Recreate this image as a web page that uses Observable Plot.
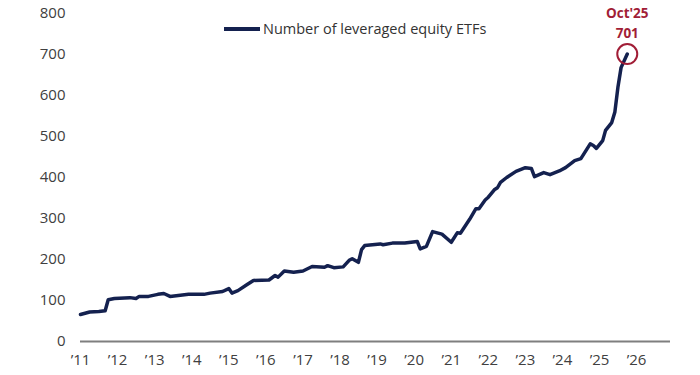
<!DOCTYPE html>
<html><head><meta charset="utf-8">
<script src="https://cdn.jsdelivr.net/npm/d3@7"></script>
<script src="https://cdn.jsdelivr.net/npm/@observablehq/plot@0.6"></script>
<style>
body{margin:0;background:#fff;font-family:"Open Sans",sans-serif}
#wrap{position:relative;width:700px;height:375px}
#legend{position:absolute;left:224px;top:19px;display:flex;align-items:center;font-size:14.5px;color:#333;line-height:20px}
#legend .sw{display:inline-block;width:36px;height:3.5px;background:#14214f;margin-right:3px}
</style></head><body>
<div id="wrap"><div id="legend"><span class="sw"></span><span id="legtext"></span></div></div>
<script>
const seriesName = "Number of leveraged equity ETFs";
const months = ["2011-01","2011-04","2011-07","2011-09","2011-10","2011-12","2012-05","2012-07","2012-08","2012-11",
"2013-02","2013-04","2013-06","2013-12","2014-05","2014-07","2014-11","2015-01","2015-02","2015-04",
"2015-07","2015-09","2016-02","2016-04","2016-05","2016-07","2016-10","2017-01","2017-04","2017-08",
"2017-09","2017-11","2018-02","2018-04","2018-05","2018-07","2018-08","2018-09","2019-02","2019-03",
"2019-06","2019-10","2020-02","2020-03","2020-05","2020-07","2020-10","2021-01","2021-03","2021-04","2021-07",
"2021-09","2021-10","2021-12","2022-01","2022-03","2022-04","2022-05","2022-07","2022-10","2023-01","2023-03","2023-04","2023-07",
"2023-09","2023-12","2024-02","2024-05","2024-07","2024-10","2024-11","2024-12","2025-02","2025-03",
"2025-05","2025-06","2025-07","2025-08","2025-10"];
const counts = [66,72,73,75,102,105,107,105,110,110,
115,117,110,115,115,118,122,129,118,124,
139,149,150,161,157,172,169,172,183,181,
185,180,182,198,202,193,224,234,238,236,
240,240,244,226,232,268,262,242,265,264,298,
324,324,345,352,370,375,388,400,415,424,422,402,412,
407,416,424,441,446,482,478,471,490,515,
534,560,620,668,701];
const yTicks = [0,100,200,300,400,500,600,700,800];
const xTickYears = [2011,2012,2013,2014,2015,2016,2017,2018,2019,2020,2021,2022,2023,2024,2025,2026];
const peakMonth = "2025-10";
const peakLabel = "Oct'25";
const peakValue = 701;

document.getElementById("legtext").textContent = seriesName;
const data = months.map((m,i)=>({date:new Date(m+"-01T00:00:00Z"), value:counts[i]}));
const peak = [{date:new Date(peakMonth+"-01T00:00:00Z"), value:peakValue}];
const navy = "#14214f", red = "#a11d36";

const chart = Plot.plot({
  width:700, height:375,
  marginLeft:80, marginRight:30, marginTop:13, marginBottom:34,
  style:{fontFamily:'"Open Sans", sans-serif', fontSize:"15px", color:"#404040", background:"transparent"},
  x:{type:"utc", domain:[new Date("2011-01-01T00:00:00Z"), new Date("2026-12-01T00:00:00Z")],
     ticks:xTickYears.map(y=>new Date(Date.UTC(y,0,1))),
     tickFormat:d=>"\u2019"+String(d.getUTCFullYear()).slice(2), tickSize:0, tickPadding:13, label:null},
  y:{domain:[0,800], ticks:yTicks, tickSize:0, tickPadding:15, label:null},
  marks:[
    Plot.ruleY([0],{stroke:"#7f7f7f", strokeWidth:2}),
    Plot.lineY(data,{x:"date", y:"value", stroke:navy, strokeWidth:3.5, strokeLinejoin:"round"}),
    Plot.dot(peak,{x:"date", y:"value", r:10, stroke:red, strokeWidth:2, fill:"none"}),
    Plot.text(peak,{x:"date", y:"value", text:d=>String(d.value), dy:-20, fill:red, fontWeight:"bold", fontSize:13.5}),
    Plot.text(peak,{x:"date", y:"value", text:()=>peakLabel, dy:-40, fill:red, fontWeight:"bold", fontSize:13.5})
  ]
});
document.getElementById("wrap").appendChild(chart);
</script>
</body></html>
